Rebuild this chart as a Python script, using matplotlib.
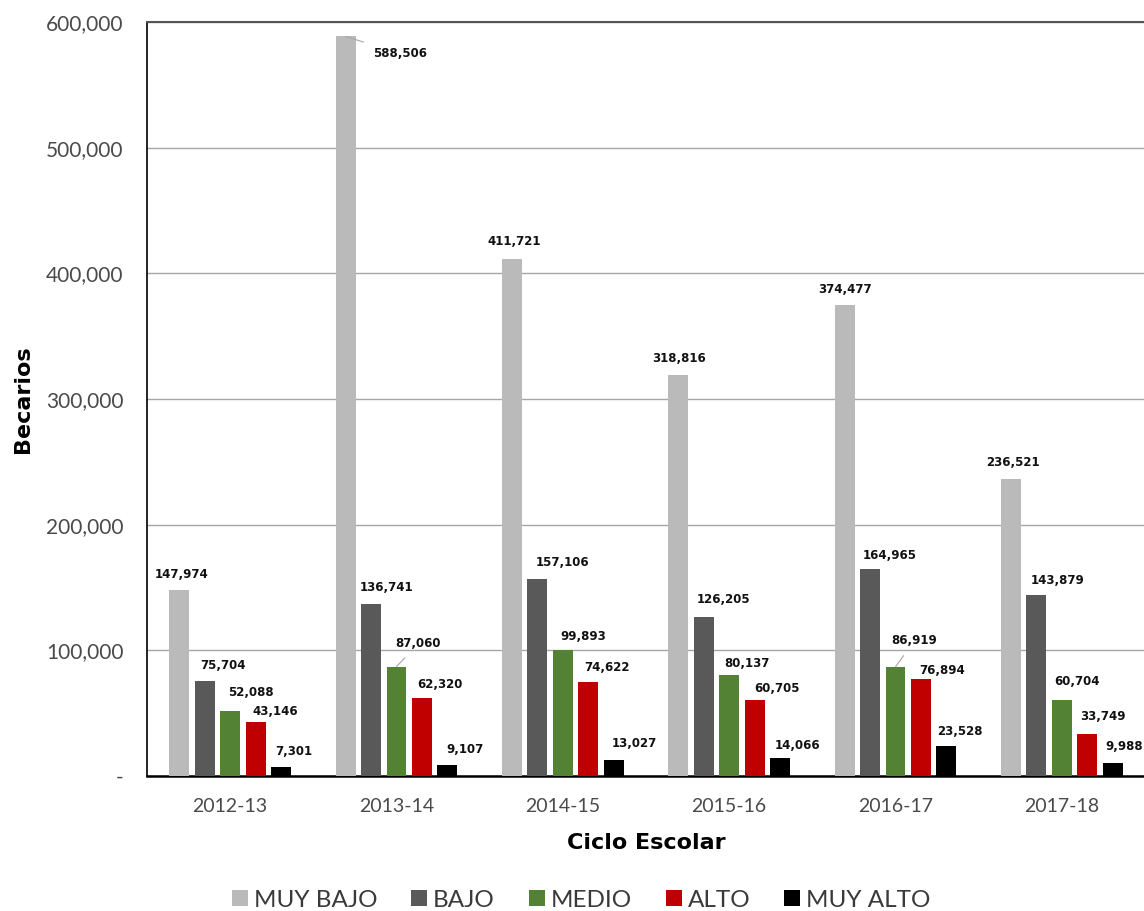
import matplotlib
matplotlib.use("Agg")
import matplotlib.pyplot as plt
import numpy as np
from matplotlib.ticker import FuncFormatter

ciclos = ["2012-13", "2013-14", "2014-15", "2015-16", "2016-17", "2017-18"]
series_names = ["MUY BAJO", "BAJO", "MEDIO", "ALTO", "MUY ALTO"]
muy_bajo = [147974, 588506, 411721, 318816, 374477, 236521]
bajo = [75704, 136741, 157106, 126205, 164965, 143879]
medio = [52088, 87060, 99893, 80137, 86919, 60704]
alto = [43146, 62320, 74622, 60705, 76894, 33749]
muy_alto = [7301, 9107, 13027, 14066, 23528, 9988]
y_ticks = [0, 100000, 200000, 300000, 400000, 500000, 600000]

colors = ["#BABABA", "#595959", "#548235", "#C00000", "#000000"]

# label offsets in pixels (dx, dy) relative to bar top centre
label_offsets = [
    [(2, 16), (54, -17), (2, 17), (1, 17), (0, 16), (2, 16)],
    [(18, 15), (15, 17), (25, 16), (20, 18), (20, 13), (21, 15)],
    [(21, 18), (22, 23), (20, 14), (18, 12), (19, 26), (15, 18)],
    [(20, 10), (18, 13), (19, 15), (22, 11), (21, 9), (16, 17)],
    [(13, 15), (18, 15), (21, 16), (17, 13), (13, 15), (11, 17)],
]
leaders = {(0, 1), (2, 1), (2, 4)}

data = [muy_bajo, bajo, medio, alto, muy_alto]

fig = plt.figure(figsize=(11.44, 9.11), dpi=100)
ax = fig.add_axes([147 / 1144, 135 / 911, 998 / 1144, 754 / 911])

x = np.arange(len(ciclos))
step = 0.153
width = 0.12
for i, (name, vals) in enumerate(zip(series_names, data)):
    xs = x + (i - 2) * step
    ax.bar(xs, vals, width=width, color=colors[i], label=name, zorder=3)
    for j, (xx, v) in enumerate(zip(xs, vals)):
        dx, dy = label_offsets[i][j]
        kw = {}
        if (i, j) in leaders:
            kw["arrowprops"] = dict(arrowstyle="-", color="#A6A6A6", lw=0.8,
                                    shrinkA=5, shrinkB=0)
        ax.annotate(f"{v:,}", xy=(xx, v), xytext=(dx, dy),
                    textcoords="offset pixels", ha="center", va="center",
                    fontsize=8.5, fontweight="bold", color="#111111",
                    family="DejaVu Sans", zorder=5, **kw)

ax.set_xlim(-0.5, 5.5)
ax.set_ylim(0, 600000)
ax.set_yticks(y_ticks)
ax.yaxis.set_major_formatter(FuncFormatter(lambda v, p: "-" if v == 0 else f"{int(v):,}"))
ax.set_xticks(x)
ax.set_xticklabels(ciclos)
ax.grid(axis="y", color="#A6A6A6", lw=1, zorder=0)
ax.tick_params(axis="y", length=0, labelsize=15, labelcolor="#4a4a4a", pad=17)
ax.tick_params(axis="x", length=0, labelsize=14, labelcolor="#4a4a4a", pad=16)
for lab in ax.get_xticklabels() + ax.get_yticklabels():
    lab.set_family("Lato")
ax.spines["left"].set_color("#000000")
ax.spines["left"].set_linewidth(1.2)
ax.spines["bottom"].set_color("#000000")
ax.spines["bottom"].set_linewidth(1.8)
ax.spines["top"].set_color("#555555")
ax.spines["top"].set_linewidth(1.5)
ax.spines["right"].set_visible(False)

ax.set_ylabel("Becarios", fontsize=16, fontweight="bold", family="DejaVu Sans",
              color="#000000", labelpad=9)
ax.set_xlabel("Ciclo Escolar", fontsize=16, fontweight="bold", family="DejaVu Sans",
              color="#000000", labelpad=13)

handles, labels = ax.get_legend_handles_labels()
leg = fig.legend(handles, labels, loc="center", bbox_to_anchor=(0.508, 0.012),
                 ncol=5, frameon=False, handlelength=0.65,
                 handleheight=0.65, handletextpad=0.25, columnspacing=1.4,
                 prop={"family": "Lato", "size": 17.5})
for t in leg.get_texts():
    t.set_color("#3a3a3a")

fig.savefig("out.png", dpi=100)
